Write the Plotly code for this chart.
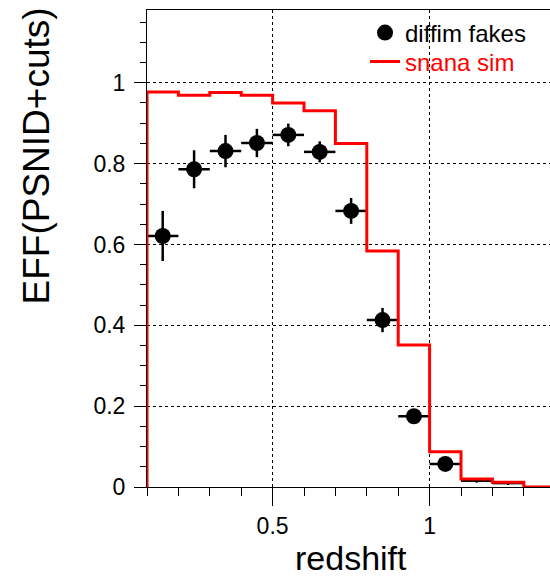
import plotly.graph_objects as go

# diffim fakes: bin centres, efficiency and errors
fake_z = [0.15, 0.25, 0.35, 0.45, 0.55, 0.65, 0.75, 0.85, 0.95, 1.05]
fake_eff = [0.621, 0.786, 0.831, 0.851, 0.871, 0.829, 0.683, 0.413, 0.175, 0.057]
fake_err = [0.062, 0.047, 0.040, 0.035, 0.028, 0.026, 0.032, 0.030, 0.016, 0.012]

# tail bins drawn without marker
tail_z = [1.15, 1.25]
tail_eff = [0.015, 0.009]
tail_err = [0.004, 0.004]

# snana sim histogram: bin edges and contents
sim_edges = [0.1, 0.2, 0.3, 0.4, 0.5, 0.6, 0.7, 0.8, 0.9, 1.0, 1.1, 1.2, 1.3, 1.4]
sim_eff = [0.977, 0.969, 0.976, 0.969, 0.950, 0.931, 0.850, 0.584, 0.351, 0.087, 0.020, 0.012, 0.0]

FONT = "Liberation Sans, Arial, Helvetica, sans-serif"
half_bin = 0.05

fig = go.Figure()

fig.add_trace(go.Scatter(
    x=fake_z, y=fake_eff, mode="markers", name="diffim fakes", legend="legend",
    marker=dict(symbol="circle", size=16, color="black"),
    error_y=dict(type="data", array=fake_err, color="black", thickness=2.5, width=0),
    error_x=dict(type="constant", value=half_bin, color="black", thickness=2.5, width=0),
))

fig.add_trace(go.Scatter(
    x=tail_z, y=tail_eff, mode="markers", showlegend=False,
    marker=dict(size=3, color="black"),
    error_y=dict(type="data", array=tail_err, color="black", thickness=2, width=0),
    error_x=dict(type="constant", value=half_bin, color="black", thickness=2, width=0),
))

step_x = [sim_edges[0]] + sim_edges
step_y = [0.0] + sim_eff + [sim_eff[-1]]
fig.add_trace(go.Scatter(
    x=step_x, y=step_y, mode="lines", line_shape="hv", legend="legend2",
    name="<span style='color:red'>snana sim</span>",
    line=dict(color="red", width=3),
))

legend_common = dict(xanchor="left", yanchor="middle", bgcolor="rgba(0,0,0,0)",
                     font=dict(size=24, family=FONT, color="black"),
                     itemwidth=30, borderwidth=0)

fig.update_layout(
    width=550, height=576,
    margin=dict(l=147, r=0, t=10, b=89),
    paper_bgcolor="white", plot_bgcolor="white",
    font=dict(family=FONT, color="black"),
    showlegend=True,
    legend=dict(x=0.541, y=(487 - 33) / 477, **legend_common),
    legend2=dict(x=0.541, y=(487 - 62) / 477, **legend_common),
    xaxis=dict(range=[0.1, 1.3834], tickmode="linear", tick0=0, dtick=0.5,
               ticks="outside", ticklen=18, tickwidth=1, tickcolor="black",
               tickfont=dict(size=23, family=FONT, color="black"),
               showline=True, linecolor="black", linewidth=1, mirror=True,
               showgrid=True, gridcolor="black", griddash="dot", gridwidth=1,
               zeroline=False,
               minor=dict(dtick=0.1, tick0=0, ticks="outside", ticklen=8,
                          tickcolor="black", tickwidth=1, showgrid=False)),
    yaxis=dict(range=[0, 1.18], tickmode="linear", tick0=0, dtick=0.2,
               ticks="outside", ticklen=12, tickwidth=1, tickcolor="black",
               ticklabelstandoff=4,
               tickfont=dict(size=23, family=FONT, color="black"),
               showline=True, linecolor="black", linewidth=1, mirror=False,
               showgrid=True, gridcolor="black", griddash="dot", gridwidth=1,
               zeroline=False,
               minor=dict(dtick=0.05, tick0=0, ticks="outside", ticklen=6,
                          tickcolor="black", tickwidth=1, showgrid=False)),
    annotations=[
        dict(text="EFF(PSNID+cuts)", textangle=-90, xref="paper", yref="paper",
             x=-0.273, y=0.695, xanchor="center", yanchor="middle", showarrow=False,
             font=dict(size=37, family=FONT, color="black")),
        dict(text="redshift", xref="paper", yref="paper",
             x=0.506, y=-0.149, xanchor="center", yanchor="middle", showarrow=False,
             font=dict(size=34, family=FONT, color="black")),
    ],
)

fig.write_html("out.html", config={"displayModeBar": False},
               post_script="document.body.style.margin='0';document.body.style.overflow='hidden';")
